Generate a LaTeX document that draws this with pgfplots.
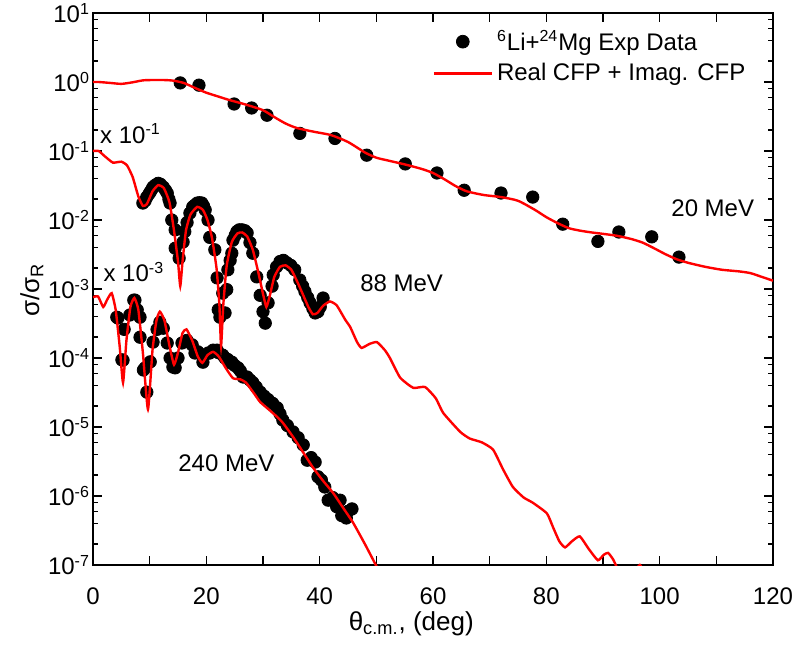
\documentclass[border=0pt]{standalone}
\usepackage{fontspec}
\setmainfont{Liberation Sans}
\usepackage{pgfplots}
\pgfplotsset{compat=1.18}

\begin{document}
\begin{tikzpicture}
\begin{axis}[
  scale only axis, width=340pt, height=276pt,
  ymode=log, xmin=0, xmax=120, ymin=1e-7, ymax=10,
  font=\fontsize{12}{14}\selectfont,
  clip marker paths=true,
  /pgf/number format/assume math mode=true,
  xtick={0,10,...,120},
  xticklabels={0,,20,,40,,60,,80,,100,,120},
  ytick={1e-7,1e-6,1e-5,1e-4,1e-3,1e-2,1e-1,1,10},
  minor ytick={2e-7,4e-7,6e-7,8e-7,2e-6,4e-6,6e-6,8e-6,2e-5,4e-5,6e-5,8e-5,
               2e-4,4e-4,6e-4,8e-4,2e-3,4e-3,6e-3,8e-3,2e-2,4e-2,6e-2,8e-2,
               0.2,0.4,0.6,0.8,2,4,6,8},
  yticklabel={10\textsuperscript{\pgfmathparse{int(round(\tick/ln(10)))}\pgfmathresult}},
  tick align=inside, xtick pos=both, ytick pos=both,
  major tick length=4.5pt, minor tick length=2.5pt,
  every tick/.style={black, line width=0.8pt},
  axis line style={line width=1pt},
  xticklabel style={yshift=-8pt},
  yticklabel style={xshift=2pt},
  xlabel={θ\textsubscript{c.m.}, (deg)},
  xlabel style={at={(axis description cs:0.468,-0.107)}, anchor=center,
                font=\fontsize{13}{15}\selectfont},
  ylabel={σ/σ\textsubscript{R}},
  ylabel style={at={(axis description cs:-0.09,0.498)}, anchor=center,
                font=\fontsize{13}{15}\selectfont},
  legend cell align=left,
  legend style={draw=none, fill=none, at={(0.49,0.984)}, anchor=north west,
                font=\fontsize{12}{14}\selectfont, row sep=1pt},
]

% 20 MeV measured points
\addplot[only marks, mark=*, mark size=3.1pt, mark options={fill=black, draw=black},
  legend image code/.code={\fill[black] (14.5pt,0pt) circle (3.2pt);}]
  coordinates {
  (15.4,0.97) (18.7,0.90) (24.9,0.48) (28.0,0.42) (30.7,0.33) (36.5,0.18)
  (42.7,0.152) (48.3,0.087) (55.1,0.065) (60.7,0.048) (65.5,0.027) (72.0,0.0246)
  (77.6,0.0215) (82.9,0.0087) (89.1,0.0049) (92.8,0.0067) (98.6,0.0057) (103.4,0.0029)
  };
\addlegendentry{\textsuperscript{6}Li+\textsuperscript{24}Mg Exp Data}

% 88 MeV measured points (scaled by 10^-1)
\addplot[only marks, mark=*, mark size=3.1pt, mark options={fill=black, draw=black}, forget plot]
  coordinates {
  (8.8,0.0176) (9.2,0.019) (9.5,0.0215) (9.9,0.024) (10.1,0.0255) (10.4,0.028)
  (10.6,0.030) (11.0,0.032) (11.5,0.034) (11.9,0.033) (12.4,0.030) (12.8,0.027)
  (13.1,0.0245) (13.4,0.020) (13.6,0.0176) (13.9,0.010) (14.5,0.0072) (14.5,0.0039)
  (15.2,0.0028) (15.9,0.0048) (16.2,0.0068) (16.6,0.0092) (17.1,0.0126) (17.6,0.0155)
  (18.0,0.0165) (18.4,0.0176) (18.8,0.0178) (19.2,0.0176) (19.5,0.016) (19.8,0.014)
  (20.3,0.010) (20.6,0.0056) (21.5,0.0037) (21.9,0.00145) (22.1,0.0005) (22.4,0.00039)
  (22.9,0.00087) (23.3,0.00045) (23.6,0.00098) (23.8,0.0019) (24.2,0.0026) (24.5,0.0033)
  (24.7,0.0051) (25.1,0.0060) (25.4,0.0068) (25.8,0.0072) (26.3,0.0072) (26.8,0.0070)
  (27.2,0.0065) (27.7,0.0047) (28.2,0.0033) (28.9,0.0015) (29.5,0.00081) (30.0,0.00047)
  (30.4,0.00032) (30.9,0.00063) (31.6,0.0011) (31.8,0.0016) (32.4,0.0021) (33.0,0.0025)
  (33.6,0.0026) (34.2,0.0024) (34.9,0.0022) (35.6,0.0019) (36.5,0.00135) (37.0,0.0011)
  (37.4,0.00092) (37.9,0.00075) (38.3,0.00063) (38.8,0.00052) (39.2,0.00045) (39.7,0.00047)
  (40.1,0.00055) (40.6,0.00074)
  };

% 240 MeV measured points (scaled by 10^-3)
\addplot[only marks, mark=*, mark size=3.1pt, mark options={fill=black, draw=black}, forget plot]
  coordinates {
  (4.2,3.9e-4) (4.4,3.8e-4) (5.1,9.4e-5) (5.3,9.3e-5) (5.5,2.6e-4) (6.5,4.2e-4)
  (7.2,6.9e-4) (7.4,6.9e-4) (7.8,5.0e-4) (8.3,3.9e-4) (8.3,2.0e-4) (8.9,6.7e-5)
  (9.2,7.2e-5) (9.5,3.2e-5) (10.1,8.8e-5) (10.6,1.7e-4) (11.3,2.6e-4) (11.8,3.3e-4)
  (12.4,2.7e-4) (13.1,1.65e-4) (13.6,1.0e-4) (14.1,7.4e-5) (14.5,7.2e-5) (15.0,1.0e-4)
  (15.7,1.65e-4) (16.6,1.8e-4) (17.5,1.55e-4) (18.0,1.18e-4) (18.5,1.23e-4) (19.4,8.7e-5)
  (20.3,1.18e-4) (20.6,1.18e-4) (21.2,1.3e-4) (21.9,1.3e-4) (22.1,1.2e-4) (22.9,1.1e-4)
  (23.3,1.0e-4) (23.8,9.5e-5) (24.2,8.5e-5) (24.5,8.7e-5) (25.0,7.8e-5) (25.6,7.2e-5)
  (26.0,6.5e-5) (26.5,5.3e-5) (27.2,5.3e-5) (27.7,4.8e-5) (28.2,4.4e-5) (28.8,3.8e-5)
  (29.5,3.2e-5) (30.2,2.8e-5) (30.9,2.5e-5) (31.7,2.2e-5) (32.5,1.9e-5) (33.0,1.55e-5)
  (33.5,1.26e-5) (34.3,1.05e-5) (35.3,8.5e-6) (36.2,7.0e-6) (37.1,5.5e-6) (37.8,3.3e-6)
  (38.5,3.6e-6) (39.2,3.1e-6) (39.7,1.9e-6) (40.3,1.7e-6) (40.9,1.35e-6) (41.5,8.7e-7)
  (42.3,9.5e-7) (43.0,7.0e-7) (43.6,8.7e-7) (43.9,5.2e-7) (44.7,4.8e-7) (45.0,6.0e-7)
  (45.7,6.5e-7)
  };

% CFP calculation, 20 MeV
\addplot[red, line width=1.2pt, smooth, tension=0.4,
  legend image code/.code={\draw[red, line width=1.2pt] (0pt,0pt) -- (29pt,0pt);}]
  coordinates {
  (0,1.0) (1,1.0) (3,0.97) (5,0.94) (7,0.99) (9,1.06) (12,1.07) (14,1.05) (16,0.97)
  (18,0.82) (20,0.70) (22,0.62) (24,0.55) (27,0.47) (30,0.39) (32,0.31) (34,0.25)
  (36,0.215) (39,0.19) (42,0.17) (45,0.135) (48,0.095) (50,0.080) (52,0.073) (55,0.064)
  (58,0.055) (60,0.048) (62,0.039) (64,0.031) (66,0.026) (69,0.023) (72,0.0215)
  (75,0.019) (78,0.014) (80,0.011) (82,0.0090) (84,0.0076) (86,0.0070) (88,0.0066)
  (90,0.0063) (92.5,0.0059) (95,0.0053) (97,0.0047) (99,0.0039) (101,0.0032)
  (103,0.0027) (105,0.0024) (108,0.0021) (111,0.0019) (114,0.0018) (116,0.0017)
  (118,0.0015) (120,0.00132)
  };
\addlegendentry{Real CFP + Imag. CFP}

% CFP calculation, 88 MeV (scaled by 10^-1)
\addplot[red, line width=1.2pt, smooth, tension=0.3, forget plot]
  coordinates {
  (0,0.10) (1,0.10) (2,0.085) (3.5,0.068) (5,0.070) (6,0.062) (7,0.042) (8,0.022)
  (8.8,0.016) (9.5,0.017) (10.5,0.026) (11.5,0.032) (12.5,0.029) (13.5,0.018)
  (14.3,0.007) (15.0,0.0025) (15.4,0.0011) (15.8,0.0025) (16.4,0.007) (17.2,0.012)
  (18.4,0.0155) (19.4,0.014) (20.2,0.010) (21.0,0.0055) (21.8,0.002) (22.3,0.0006)
  (22.6,0.00015) (23.0,0.0006) (23.6,0.0022) (24.5,0.0048) (25.5,0.0064) (26.3,0.0066)
  (27.2,0.0058) (28.2,0.0037) (29.2,0.0017) (30.0,0.00085) (30.6,0.00055) (31.2,0.0008)
  (32.0,0.0015) (33.0,0.0021) (34.0,0.0022) (35.0,0.0019) (36.0,0.0013) (37.0,0.00085)
  (38.0,0.00055) (38.8,0.00043) (39.6,0.00045) (40.6,0.00057) (41.8,0.00066) (43.0,0.00058)
  (44.5,0.00036) (45.4,0.00028) (46.6,0.00017) (47.4,0.00014) (48.8,0.00016) (50.1,0.00017)
  (51.5,0.00013) (52.4,0.0001) (54.2,5.2e-5) (56.5,3.7e-5) (58.6,3.8e-5) (60.5,2.6e-5)
  (61.8,1.6e-5) (64.8,8.5e-6) (66.5,6.8e-6) (68.6,6.0e-6) (70.6,4.7e-6) (72.4,2.4e-6)
  (74.1,1.35e-6) (76.0,9.5e-7) (77.6,8.0e-7) (80.1,5.6e-7) (81.2,3.5e-7) (82.3,2.2e-7)
  (83.3,1.8e-7) (84.5,2.2e-7) (85.9,2.6e-7) (87.5,1.7e-7) (89.1,1.17e-7) (90.1,1.4e-7)
  (90.9,1.5e-7) (91.8,1.2e-7) (92.5,9e-8) (94.0,5e-8) (96.5,1.0e-7) (98.0,5e-8)
  };

% CFP calculation, 240 MeV (scaled by 10^-3)
\addplot[red, line width=1.2pt, smooth, tension=0.3, forget plot]
  coordinates {
  (0,7.6e-4) (0.9,7.8e-4) (1.8,5.5e-4) (2.5,7.0e-4) (3.3,8.7e-4) (4.0,5.0e-4)
  (4.7,1.5e-4) (5.3,4.4e-5) (5.9,1.8e-4) (6.6,5.5e-4) (7.3,7.4e-4) (8.0,5.0e-4)
  (8.8,1.2e-4) (9.7,1.8e-5) (10.5,1.3e-4) (11.2,3.5e-4) (11.8,4.7e-4) (12.6,3.5e-4)
  (13.5,1.5e-4) (14.3,8.0e-5) (15.0,1.2e-4) (15.8,2.3e-4) (16.5,2.6e-4) (17.5,1.8e-4)
  (18.5,1.05e-4) (19.3,8.5e-5) (20.2,1.1e-4) (21.2,1.23e-4) (22.2,1.05e-4) (23.5,7.0e-5)
  (24.7,5.1e-5) (26.0,4.9e-5) (27.0,4.4e-5) (28.5,3.0e-5) (29.5,2.3e-5) (31.0,1.8e-5)
  (32.5,1.4e-5) (33.5,1.15e-5) (35.3,7.2e-6) (37.0,4.4e-6) (38.8,2.6e-6) (40.5,1.7e-6)
  (42.4,1.1e-6) (44.0,7.0e-7) (45.9,4.1e-7) (48.0,2.0e-7) (50.2,9.0e-8)
  };

% curve labels
\node[anchor=west, inner sep=0pt] at (axis cs:1.2,0.18) {x 10\textsuperscript{-1}};
\node[anchor=west, inner sep=0pt] at (axis cs:1.8,1.76e-3) {x 10\textsuperscript{-3}};
\node[anchor=west, inner sep=0pt] at (axis cs:47.1,1.22e-3) {88 MeV};
\node[anchor=west, inner sep=0pt] at (axis cs:15.0,3.0e-6) {240 MeV};
\node[anchor=west, inner sep=0pt] at (axis cs:102,0.0149) {20 MeV};
\end{axis}
\pgfresetboundingbox
\path ([shift={(-46.5pt,-40.5pt)}]current axis.south west)
  rectangle ([shift={(9.5pt,6.5pt)}]current axis.north east);
\end{tikzpicture}
\end{document}
